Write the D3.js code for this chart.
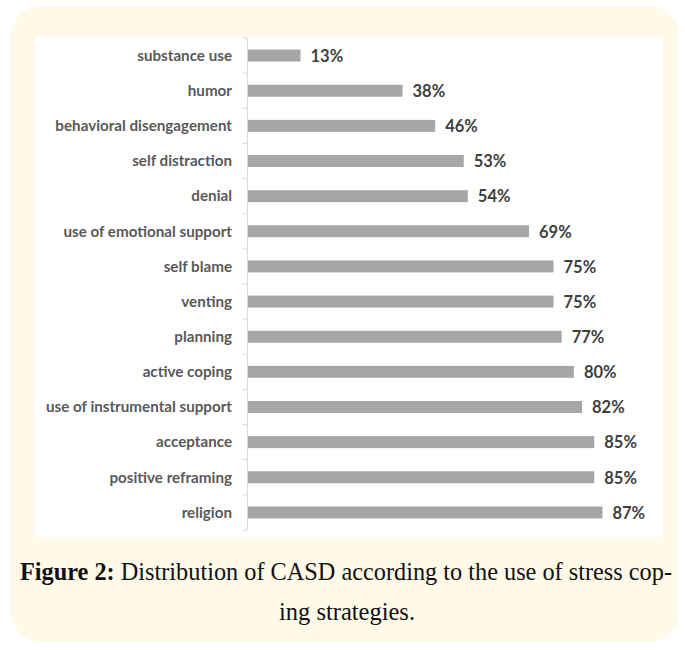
<!DOCTYPE html>
<html>
<head>
<meta charset="utf-8">
<script src="https://cdn.jsdelivr.net/npm/d3@7"></script>
<style>
  body { margin: 0; background: #ffffff; }
</style>
</head>
<body>
<div id="chart"></div>
<script>
// strategies, top to bottom, and share of CASD using each (%)
var strategies = ["substance use", "humor", "behavioral disengagement", "self distraction", "denial",
    "use of emotional support", "self blame", "venting", "planning", "active coping",
    "use of instrumental support", "acceptance", "positive reframing", "religion"];
var percents = [13, 38, 46, 53, 54, 69, 75, 75, 77, 80, 82, 85, 85, 87];
var captionBold = "Figure 2:";
var captionLine1 = " Distribution of CASD according to the use of stress cop-";
var captionLine2 = "ing strategies.";

var width = 685;
var height = 650;

var svg = d3.select("#chart").append("svg")
    .attr("width", width)
    .attr("height", height);

// yellow card behind everything
svg.append("rect")
    .attr("x", 11).attr("y", 6)
    .attr("width", 668).attr("height", 636)
    .attr("rx", 30).attr("ry", 30)
    .style("fill", "#fffae8");

// white chart area
svg.append("rect")
    .attr("x", 35).attr("y", 37)
    .attr("width", 628).attr("height", 500)
    .style("fill", "#ffffff");

var data = strategies.map(function(s, i) { return {name: s, value: percents[i]}; });

var x = d3.scaleLinear()
    .domain([0, 100])
    .range([247.5, 655.5]);

var y = d3.scaleBand()
    .domain(strategies)
    .range([38, 530])
    .paddingInner(0.66)
    .paddingOuter(0.33);

// category axis line + tick marks between categories
var axis = svg.append("g").attr("class", "axis");
axis.append("line")
    .attr("x1", x(0)).attr("x2", x(0))
    .attr("y1", y.range()[0]).attr("y2", y.range()[1])
    .style("stroke", "#d9d9d9");

axis.selectAll(".tick")
    .data(d3.range(strategies.length + 1))
    .enter().append("line")
    .attr("class", "tick")
    .attr("x1", x(0) - 5).attr("x2", x(0))
    .attr("y1", function(i) { return y.range()[0] + i * y.step(); })
    .attr("y2", function(i) { return y.range()[0] + i * y.step(); })
    .style("stroke", "#d9d9d9");

axis.selectAll(".label")
    .data(strategies)
    .enter().append("text")
    .attr("class", "label")
    .attr("x", 232)
    .attr("y", function(d) { return y(d) + y.bandwidth() / 2; })
    .attr("dy", "0.35em")
    .style("text-anchor", "end")
    .style("font-family", "Lato")
    .style("font-weight", "bold")
    .style("font-size", "15.2px")
    .style("fill", "#595959")
    .text(function(d) { return d; });

// Bars
svg.selectAll(".bar")
    .data(data)
    .enter().append("rect")
    .attr("class", "bar")
    .attr("x", x(0) + 0.5)
    .attr("y", function(d) { return y(d.name); })
    .attr("width", function(d) { return x(d.value) - x(0) - 0.5; })
    .attr("height", y.bandwidth())
    .style("fill", "#a6a6a6");

// value labels
svg.selectAll(".value")
    .data(data)
    .enter().append("text")
    .attr("class", "value")
    .attr("x", function(d) { return x(d.value) + 10; })
    .attr("y", function(d) { return y(d.name) + y.bandwidth() / 2; })
    .attr("dy", "0.38em")
    .style("font-family", "Lato")
    .style("font-weight", "bold")
    .style("font-size", "16.5px")
    .style("fill", "#404040")
    .text(function(d) { return d.value + "%"; });

// caption, first line spans the card, second line centred
var cap = svg.append("text")
    .attr("x", 20).attr("y", 580)
    .attr("textLength", 652)
    .attr("lengthAdjust", "spacingAndGlyphs")
    .style("font-family", "Liberation Serif")
    .style("font-size", "24.5px")
    .style("fill", "#111111");
cap.append("tspan").style("font-weight", "bold").text(captionBold);
cap.append("tspan").text(captionLine1);

svg.append("text")
    .attr("x", 347).attr("y", 620)
    .style("text-anchor", "middle")
    .style("font-family", "Liberation Serif")
    .style("font-size", "24.5px")
    .style("fill", "#111111")
    .text(captionLine2);
</script>
</body>
</html>
